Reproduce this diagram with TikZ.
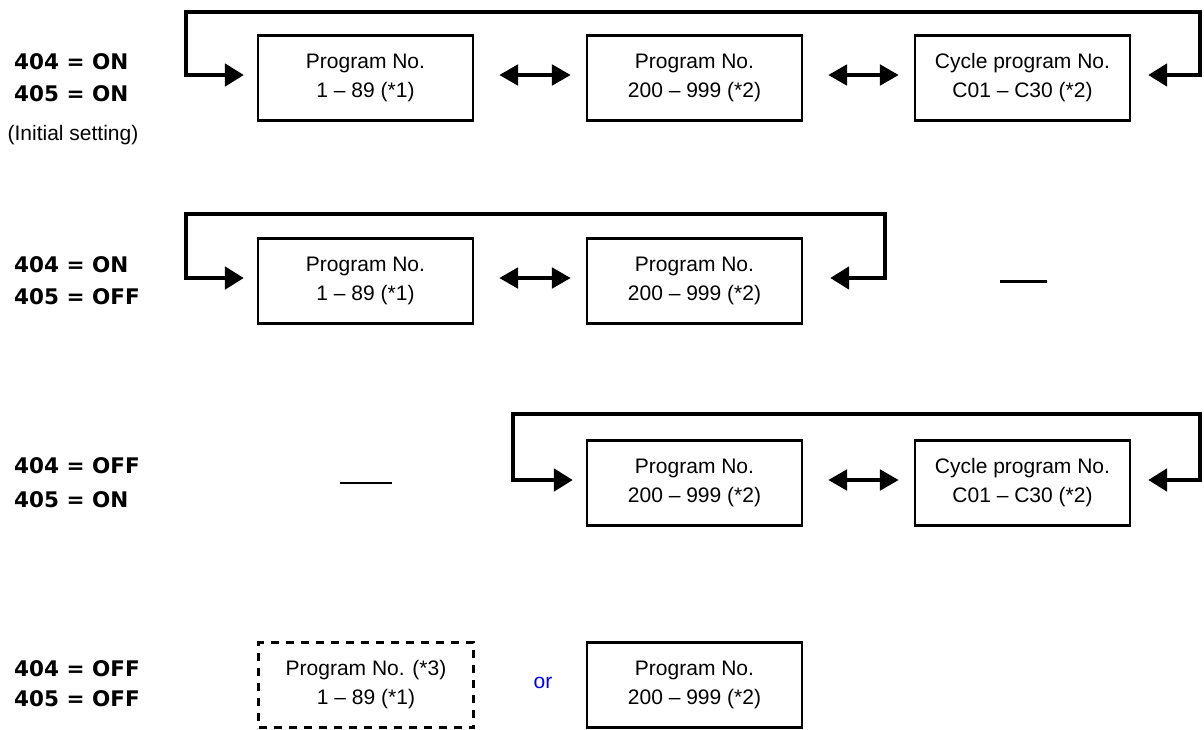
\documentclass[tikz,border=0pt]{standalone}
\usepackage{fontspec}
\setmainfont{Liberation Sans}
\newfontfamily\lblfont{DejaVu Sans}
\usetikzlibrary{arrows.meta}
\begin{document}
\begin{tikzpicture}[x=1pt,y=1pt,
  box/.style={draw, line width=2.2pt, minimum width=215pt, minimum height=85pt, inner sep=0pt, align=center, font=\fontsize{21}{29}\selectfont},
  dbox/.style={box, line width=2.2pt, dash pattern=on 8pt off 7pt},
  lbl/.style={anchor=west, inner sep=0pt, font=\lblfont\bfseries\fontsize{21.5}{24}\selectfont},
  note/.style={inner sep=0pt, font=\fontsize{21}{25}\selectfont},
  loopline/.style={line width=4.8pt, {Triangle[length=19pt,width=22pt]}-{Triangle[length=19pt,width=22pt]}},
  darrow/.style={line width=4.8pt, {Triangle[length=19pt,width=20pt]}-{Triangle[length=19pt,width=20pt]}},
  nodash/.style={line width=3pt}
]
\useasboundingbox (0,0) rectangle (1204,-729);

% ---------- Row 1 ----------
\node[lbl] (l1a) at (14,-62) {404 = ON};
\node[lbl] (l1b) at (14,-94) {405 = ON};
\node[note] (l1c) at (73,-135) {(Initial setting)};
\node[box] (r1b1) at (365.5,-78) {Program No.\\1 -- 89 (*1)};
\node[box] (r1b2) at (694.5,-78) {Program No.\\200 -- 999 (*2)};
\node[box] (r1b3) at (1022.5,-78) {Cycle program No.\\C01 -- C30 (*2)};
\coordinate (r1tl) at (186,-12);
\coordinate (r1tr) at (1200,-12);
\draw[loopline] ([xshift=17pt,yshift=3pt]r1b3.east) -| (r1tr) -- (r1tl) |- ([xshift=-13pt,yshift=3pt]r1b1.west);
\draw[darrow, shorten <=25pt, shorten >=15pt] ([yshift=3pt]r1b1.east) -- ([yshift=3pt]r1b2.west);
\draw[darrow, shorten <=25pt, shorten >=15pt] ([yshift=3pt]r1b2.east) -- ([yshift=3pt]r1b3.west);

% ---------- Row 2 ----------
\node[lbl] (l2a) at (14,-265) {404 = ON};
\node[lbl] (l2b) at (14,-297) {405 = OFF};
\node[box] (r2b1) at (365.5,-281) {Program No.\\1 -- 89 (*1)};
\node[box] (r2b2) at (694.5,-281) {Program No.\\200 -- 999 (*2)};
\coordinate (r2tl) at (186,-214);
\coordinate (r2tr) at (885,-214);
\draw[loopline] ([xshift=27pt,yshift=3pt]r2b2.east) -| (r2tr) -- (r2tl) |- ([xshift=-13pt,yshift=3pt]r2b1.west);
\draw[darrow, shorten <=25pt, shorten >=15pt] ([yshift=3pt]r2b1.east) -- ([yshift=3pt]r2b2.west);
\coordinate (d2a) at (1000,-281);
\coordinate (d2b) at (1047,-281);
\draw[nodash] (d2a) -- (d2b);

% ---------- Row 3 ----------
\node[lbl] (l3a) at (14,-466) {404 = OFF};
\node[lbl] (l3b) at (14,-500) {405 = ON};
\node[box] (r3b2) at (694.5,-483) {Program No.\\200 -- 999 (*2)};
\node[box] (r3b3) at (1022.5,-483) {Cycle program No.\\C01 -- C30 (*2)};
\coordinate (r3tl) at (513,-414);
\coordinate (r3tr) at (1200,-414);
\draw[loopline] ([xshift=17pt,yshift=3pt]r3b3.east) -| (r3tr) -- (r3tl) |- ([xshift=-13pt,yshift=3pt]r3b2.west);
\draw[darrow, shorten <=25pt, shorten >=15pt] ([yshift=3pt]r3b2.east) -- ([yshift=3pt]r3b3.west);
\coordinate (d3a) at (340,-483);
\coordinate (d3b) at (392,-483);
\draw[line width=2pt] (d3a) -- (d3b);

% ---------- Row 4 ----------
\node[lbl] (l4a) at (14,-669) {404 = OFF};
\node[lbl] (l4b) at (14,-699) {405 = OFF};
\node[dbox] (r4b1) at (366,-685) {Program No. (*3)\\1 -- 89 (*1)};
\node[note, text=blue] (or) at (543,-683) {or};
\node[box] (r4b2) at (694.5,-685) {Program No.\\200 -- 999 (*2)};
\end{tikzpicture}
\end{document}
